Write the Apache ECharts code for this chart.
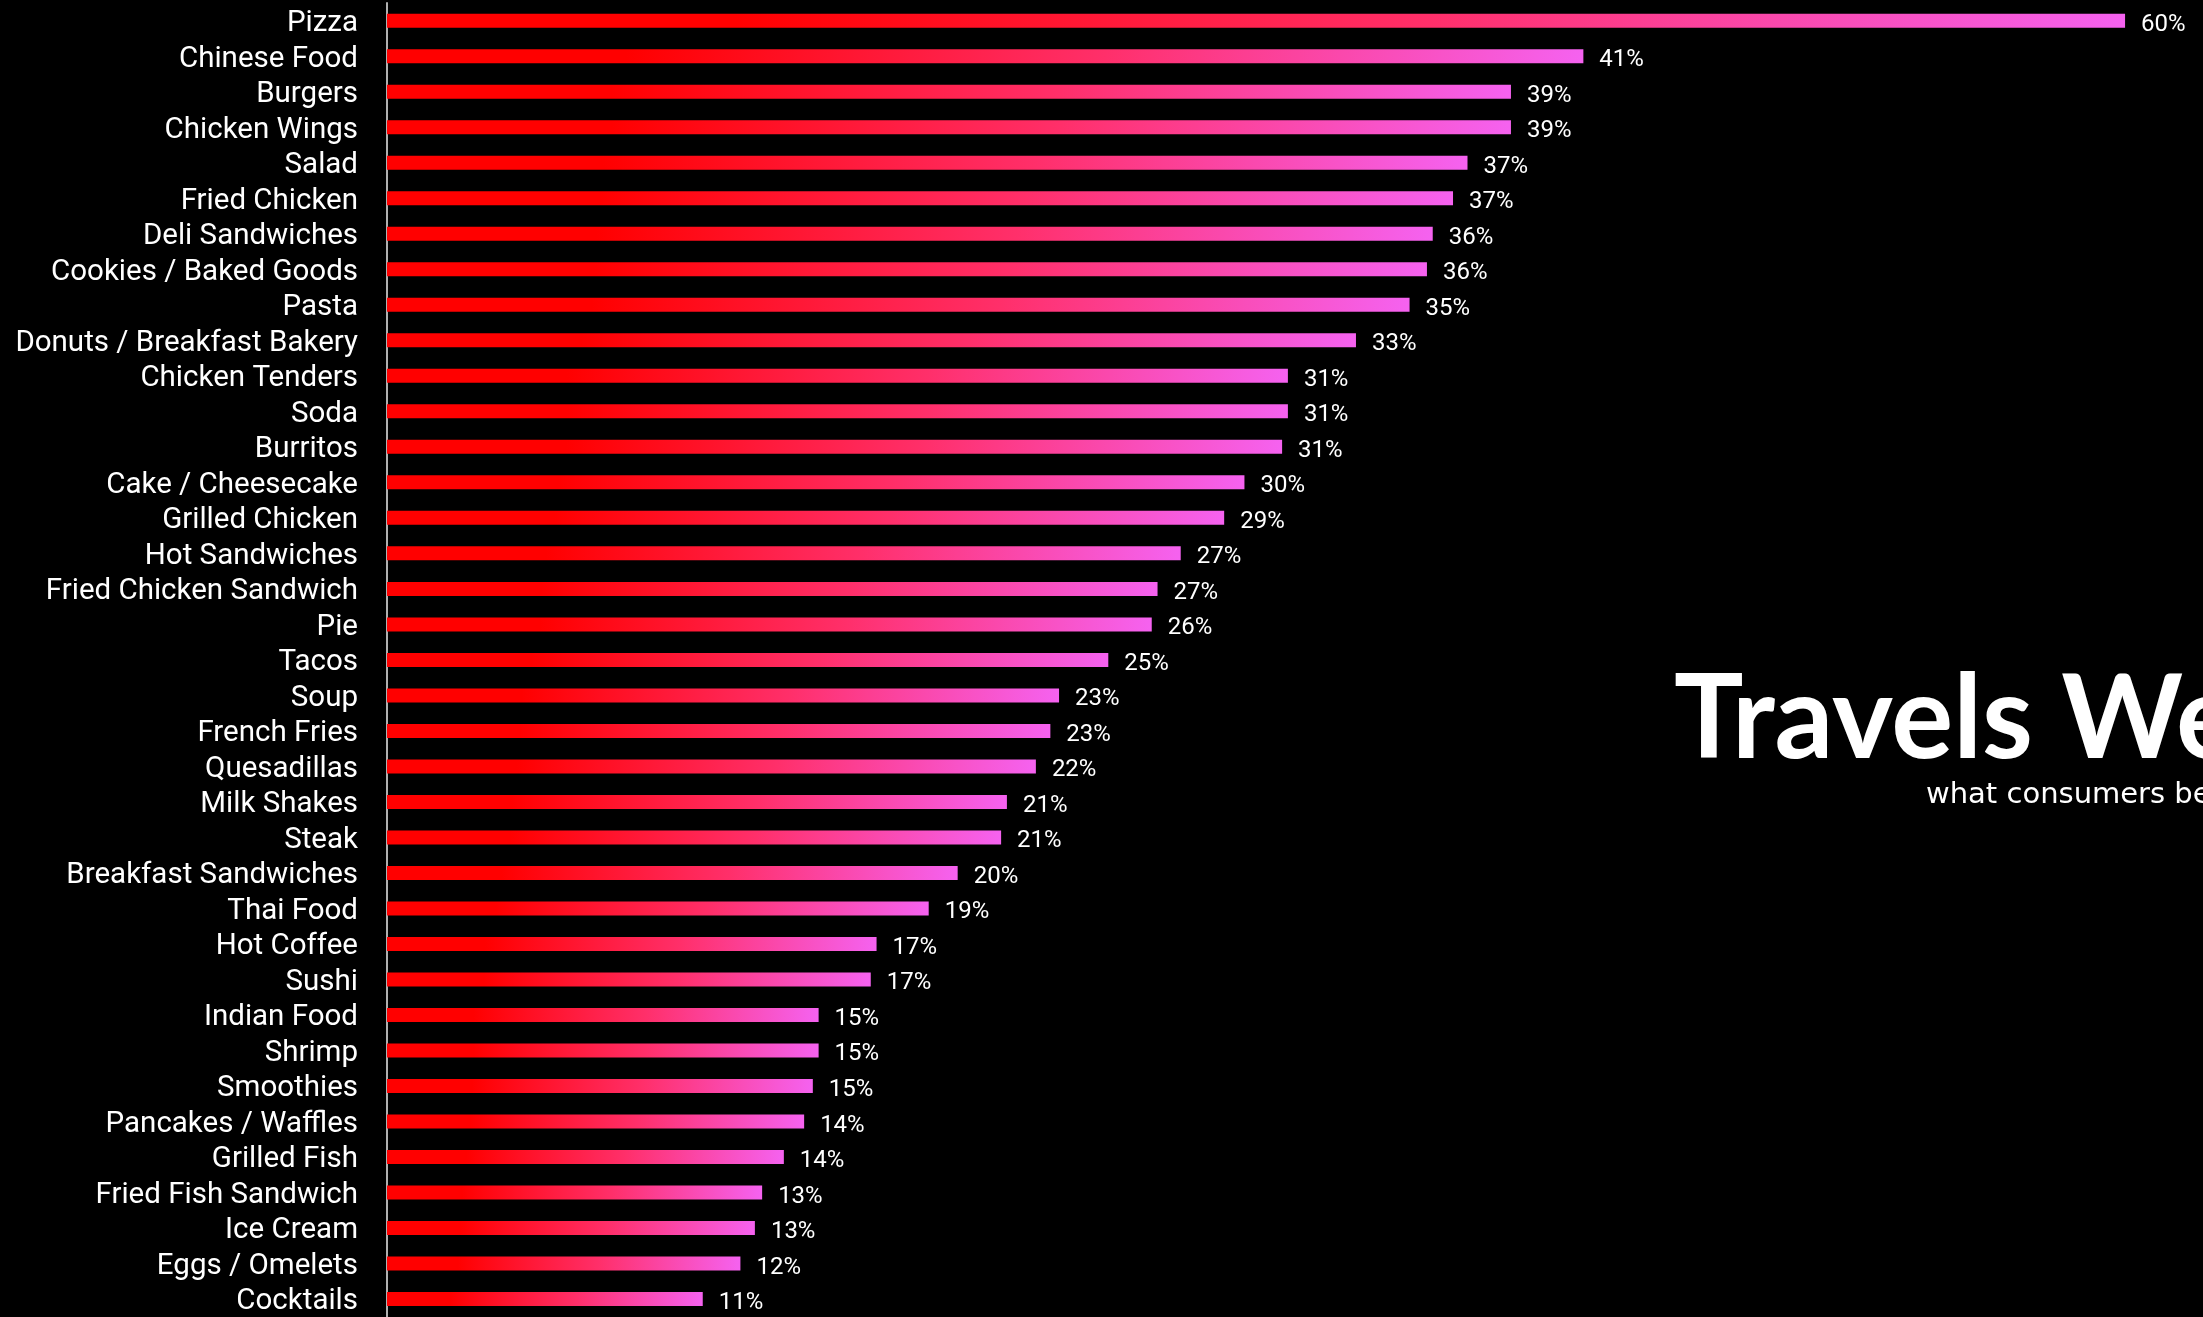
<!DOCTYPE html>
<html>
<head>
<meta charset="utf-8">
<script src="https://cdn.jsdelivr.net/npm/echarts@6/dist/echarts.min.js"></script>
<style>
html,body{margin:0;padding:0;background:#000;}
#chart{width:2203px;height:1317px;}
</style>
</head>
<body>
<div id="chart"></div>
<script>
const categories = ["Pizza","Chinese Food","Burgers","Chicken Wings","Salad","Fried Chicken","Deli Sandwiches","Cookies / Baked Goods","Pasta","Donuts / Breakfast Bakery","Chicken Tenders","Soda","Burritos","Cake / Cheesecake","Grilled Chicken","Hot Sandwiches","Fried Chicken Sandwich","Pie","Tacos","Soup","French Fries","Quesadillas","Milk Shakes","Steak","Breakfast Sandwiches","Thai Food","Hot Coffee","Sushi","Indian Food","Shrimp","Smoothies","Pancakes / Waffles","Grilled Fish","Fried Fish Sandwich","Ice Cream","Eggs / Omelets","Cocktails"];
const values = [60,41.3,38.8,38.8,37.3,36.8,36.1,35.9,35.3,33.45,31.1,31.1,30.9,29.6,28.9,27.4,26.6,26.4,24.9,23.2,22.9,22.4,21.4,21.2,19.7,18.7,16.9,16.7,14.9,14.9,14.7,14.4,13.7,12.95,12.7,12.2,10.9];
const titleText = "Travels Well";
const subtitleText = "what consumers believe travels well";

const chart = echarts.init(document.getElementById('chart'));
const grad = new echarts.graphic.LinearGradient(0,0,1,0,[
  {offset:0,color:'#ff0000'},
  {offset:0.2,color:'#ff0000'},
  {offset:0.6,color:'#ff2f6a'},
  {offset:1,color:'#f562f0'}
]);
chart.setOption({
  backgroundColor:'#000',
  animation:false,
  grid:{left:387,top:3,width:1796,height:1317,containLabel:false},
  xAxis:{type:'value',min:0,max:62,show:false},
  yAxis:{type:'category',data:categories,inverse:true,
    axisLine:{show:true,lineStyle:{color:'#b0b0b0',width:2}},
    axisTick:{show:false},
    axisLabel:{color:'#fff',fontFamily:'Roboto',fontSize:29.5,margin:29,interval:0,verticalAlign:'top',lineHeight:6}
  },
  series:[{type:'bar',data:values,barWidth:14,
    itemStyle:{color:grad},
    label:{show:true,position:'right',distance:16,color:'#fff',fontFamily:'Roboto',fontSize:24,offset:[0,4],
      formatter:p=>Math.round(p.value)+'%'}
  }],
  graphic:[
    {type:'text',left:1674,top:663,style:{text:titleText,fill:'#fff',font:'bold 116px Lato'}},
    {type:'text',left:1926,top:781,style:{text:subtitleText,fill:'#fff',font:'29px "DejaVu Sans"'}}
  ]
});
</script>
</body>
</html>
